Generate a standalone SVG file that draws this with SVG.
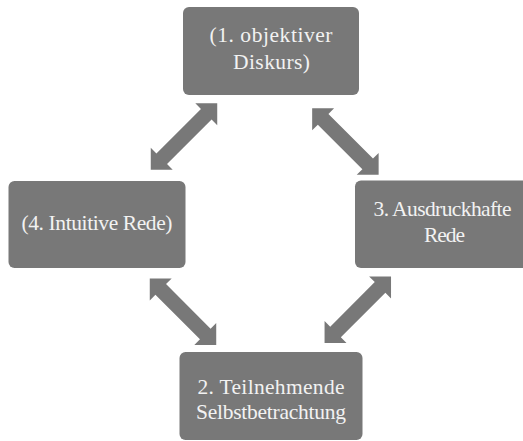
<svg xmlns="http://www.w3.org/2000/svg" xmlns:xlink="http://www.w3.org/1999/xlink" width="523" height="441" viewBox="0 0 523 441">
<style>
.box{fill:#787878;}
.lbl{fill:#f2f2f2;font-family:"Liberation Serif","DejaVu Serif",serif;font-size:21.5px;text-anchor:middle;}
.arr{fill:#787878;}
</style>
<defs>
<path id="dbl" d="M-47,0 L-31.5,-15.5 L-31.5,-7.5 L31.5,-7.5 L31.5,-15.5 L47,0 L31.5,15.5 L31.5,7.5 L-31.5,7.5 L-31.5,15.5 Z"/>
</defs>
<rect width="523" height="441" fill="#ffffff"/>
<g id="connectors">
<use xlink:href="#dbl" href="#dbl" class="arr" transform="translate(184,136.5) rotate(-45)"/>
<use xlink:href="#dbl" href="#dbl" class="arr" transform="translate(345.4,141.6) rotate(45)"/>
<use xlink:href="#dbl" href="#dbl" class="arr" transform="translate(183,311.7) rotate(45)"/>
<use xlink:href="#dbl" href="#dbl" class="arr" transform="translate(357.8,309.7) rotate(-45)"/>
</g>
<g id="node1">
<rect class="box" x="183" y="7" width="176" height="88" rx="6"/>
<text class="lbl" x="271" y="42" textLength="123" lengthAdjust="spacing">(1. objektiver</text>
<text class="lbl" x="271.5" y="68.5" textLength="77" lengthAdjust="spacing">Diskurs)</text>
</g>
<g id="node4">
<rect class="box" x="8.5" y="181" width="177" height="87" rx="6"/>
<text class="lbl" x="97" y="230" textLength="151" lengthAdjust="spacing">(4. Intuitive Rede)</text>
</g>
<g id="node3">
<rect class="box" x="355" y="180.5" width="180" height="87.5" rx="6"/>
<text class="lbl" x="442.5" y="215.5" textLength="138" lengthAdjust="spacing">3. Ausdruckhafte</text>
<text class="lbl" x="444.5" y="242" textLength="41" lengthAdjust="spacing">Rede</text>
</g>
<g id="node2">
<rect class="box" x="179.5" y="352" width="183" height="88" rx="6"/>
<text class="lbl" x="271" y="394" textLength="147" lengthAdjust="spacing">2. Teilnehmende</text>
<text class="lbl" x="271" y="419" textLength="150" lengthAdjust="spacing">Selbstbetrachtung</text>
</g>
</svg>
